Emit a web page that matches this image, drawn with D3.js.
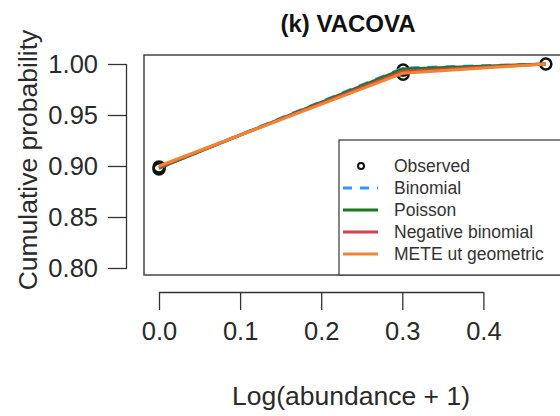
<!DOCTYPE html>
<html>
<head>
<meta charset="utf-8">
<script src="https://cdn.jsdelivr.net/npm/d3@7"></script>
<style>
  html, body { margin: 0; padding: 0; background: #fff; }
  svg { display: block; font-family: "Liberation Sans", Arial, sans-serif; }
</style>
</head>
<body>
<svg id="chart" width="560" height="416"></svg>
<script>
// ---- data ----
const title = "(k) VACOVA";
const xLabel = "Log(abundance + 1)";
const yLabel = "Cumulative probability";
const xTicks = [0.0, 0.1, 0.2, 0.3, 0.4];
const yTicks = [0.80, 0.85, 0.90, 0.95, 1.00];
const obsX = [0, 0, 0.301, 0.301, 0.477];
const obsY = [0.899, 0.897, 0.994, 0.990, 1.000];
const modelX = [0, 0.301, 0.477];
const binomialY = [0.898, 0.996, 1.000];
const poissonY = [0.898, 0.995, 1.000];
const negbinY = [0.899, 0.993, 1.000];
const meteY = [0.900, 0.991, 1.000];
const seriesNames = ["Binomial", "Poisson", "Negative binomial", "METE ut geometric"];
const seriesColors = ["#3399ff", "#1a7a1a", "#d9404a", "#f28431"];

// ---- layout ----
const svg = d3.select("#chart");
const x = d3.scaleLinear().domain([0, 0.4]).range([159, 483.4]);
const y = d3.scaleLinear().domain([0.80, 1.00]).range([268, 64]);
const box = { left: 144, top: 55, right: 566, bottom: 275 };

// plot box
svg.append("rect")
  .attr("x", box.left).attr("y", box.top)
  .attr("width", box.right - box.left).attr("height", box.bottom - box.top)
  .attr("fill", "none").attr("stroke", "#444").attr("stroke-width", 1.5);

// title
svg.append("text").attr("x", 348).attr("y", 32)
  .attr("text-anchor", "middle").attr("font-size", 24).attr("font-weight", "bold")
  .attr("fill", "#111").text(title);

// y axis
const yAxis = d3.axisLeft(y).tickValues(yTicks).tickFormat(d3.format(".2f"))
  .tickSize(19).tickPadding(10);
const gy = svg.append("g").attr("transform", "translate(127,0)").call(yAxis);
gy.selectAll("path, line").attr("stroke", "#333").attr("stroke-width", 1.3);
gy.select(".domain").attr("d", `M-0.5,${y(0.8)}V${y(1.0)}`);
gy.selectAll("text").attr("font-size", 25.5).attr("fill", "#2a2a2a")
  .attr("font-family", "Liberation Sans, Arial, sans-serif");

// x axis
const xAxis = d3.axisBottom(x).tickValues(xTicks).tickFormat(d3.format(".1f"))
  .tickSize(18).tickPadding(12);
const gx = svg.append("g").attr("transform", "translate(0,292)").call(xAxis);
gx.selectAll("path, line").attr("stroke", "#333").attr("stroke-width", 1.3);
gx.select(".domain").attr("d", `M${x(0)},0.5H${x(0.4)}`);
gx.selectAll("text").attr("font-size", 25.5).attr("fill", "#2a2a2a")
  .attr("font-family", "Liberation Sans, Arial, sans-serif");

// axis labels
svg.append("text").attr("x", 351).attr("y", 405)
  .attr("text-anchor", "middle").attr("font-size", 26.5).attr("fill", "#2a2a2a").text(xLabel);
svg.append("text").attr("transform", "translate(37,160) rotate(-90)")
  .attr("text-anchor", "middle").attr("font-size", 26.5).attr("fill", "#2a2a2a").text(yLabel);

// observed points
svg.append("g").selectAll("circle").data(obsX).join("circle")
  .attr("cx", (d) => x(d)).attr("cy", (d, i) => y(obsY[i])).attr("r", 5.5)
  .attr("fill", "none").attr("stroke", "#111").attr("stroke-width", 2.5);

// model lines
const allSeries = [binomialY, poissonY, negbinY, meteY];
const line = d3.line().x((d, i) => x(modelX[i])).y((d) => y(d));
allSeries.forEach((s, k) => {
  svg.append("path").datum(s).attr("d", line)
    .attr("fill", "none").attr("stroke", seriesColors[k])
    .attr("stroke-width", 3)
    .attr("stroke-dasharray", k === 0 ? "10,8" : null);
});

// legend
const lg = { left: 339, top: 140, right: 566, bottom: 275 };
svg.append("rect").attr("x", lg.left).attr("y", lg.top)
  .attr("width", lg.right - lg.left).attr("height", lg.bottom - lg.top)
  .attr("fill", "#fff").attr("stroke", "#444").attr("stroke-width", 1.3);
const legendNames = ["Observed"].concat(seriesNames);
legendNames.forEach((name, i) => {
  const yy = 166 + i * 22;
  if (i === 0) {
    svg.append("circle").attr("cx", 361).attr("cy", yy).attr("r", 3)
      .attr("fill", "none").attr("stroke", "#111").attr("stroke-width", 2);
  } else {
    svg.append("line").attr("x1", 343).attr("x2", 378).attr("y1", yy).attr("y2", yy)
      .attr("stroke", seriesColors[i - 1]).attr("stroke-width", 3)
      .attr("stroke-dasharray", i === 1 ? "9,8" : null);
  }
  svg.append("text").attr("x", 394).attr("y", yy + 6)
    .attr("font-size", 17.5).attr("fill", "#333").text(name);
});
</script>
</body>
</html>
